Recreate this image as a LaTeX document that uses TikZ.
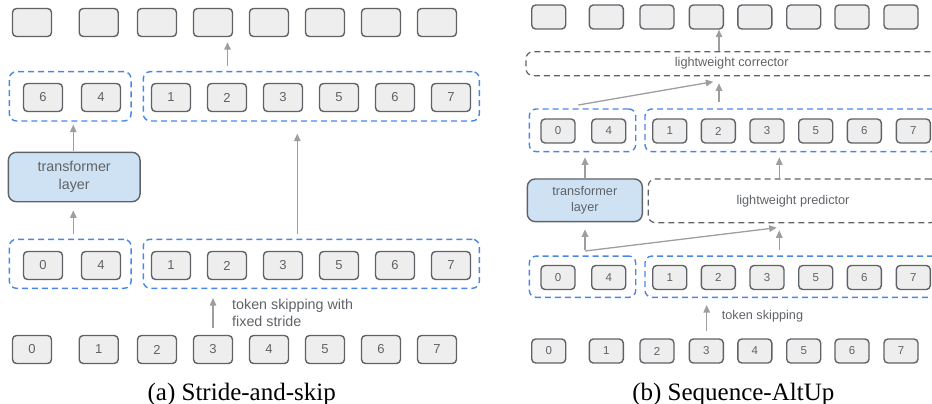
\documentclass[tikz,border=0pt]{standalone}
\usepackage{fontspec}
\setmainfont{Liberation Serif}
\setsansfont{Liberation Sans}
\usetikzlibrary{arrows.meta}

\definecolor{tokfill}{HTML}{EEEEEE}
\definecolor{tokdraw}{HTML}{5F6368}
\definecolor{grpblue}{HTML}{4A86E8}
\definecolor{tfblue}{HTML}{CFE2F3}
\definecolor{arrgray}{HTML}{9E9E9E}
\definecolor{txtgray}{HTML}{5F6368}

\tikzset{
    tok/.style={draw=tokdraw, fill=tokfill, line width=1.4pt, rounded corners=4pt, inner sep=0pt, text=txtgray},
    toka/.style={tok, minimum width=39pt, minimum height=28pt, font=\sffamily\fontsize{13}{15}\selectfont},
    tokb/.style={tok, minimum width=34pt, minimum height=24pt, font=\sffamily\fontsize{11.5}{13}\selectfont},
    grp/.style={draw=grpblue, dash pattern=on 6pt off 4pt, line width=1.4pt, rounded corners=7pt, inner sep=0pt},
    lite/.style={draw=tokdraw, dash pattern=on 6pt off 4pt, line width=1.2pt, rounded corners=7pt, inner sep=0pt, text=txtgray, font=\sffamily\fontsize{12.7}{15}\selectfont},
    tflayer/.style={draw=tokdraw, fill=tfblue, line width=1.4pt, rounded corners=8pt, inner sep=0pt, align=center, text=txtgray},
    arr/.style={-{Triangle[length=7.5pt,width=6.5pt]}, draw=arrgray, line width=1.3pt},
    note/.style={anchor=west, align=left, text=txtgray, inner sep=0pt},
    capt/.style={anchor=base, font=\fontsize{25}{28}\selectfont}
}

\begin{document}
\begin{tikzpicture}[x=1pt, y=-1pt]
    \useasboundingbox (0,0) rectangle (932,404);
    \clip (0,0) rectangle (932,404);

    % (a) stride-and-skip
    \foreach \x [count=\i from 0] in {32,98.7,157,213,269,325,381,437}
        \node[toka] (at\i) at (\x,22.5) {};
    \node[grp, minimum width=121.7pt, minimum height=49.3pt] (agu1) at (70.2,96.3) {};
    \node[grp, minimum width=336pt, minimum height=49.3pt] (agu2) at (311.3,96.3) {};
    \foreach \x/\t [count=\i from 0] in {43/6,101/4,171/1,227/2,283/3,339/5,395/6,451/7}
        \node[toka] (au\i) at (\x,97.5) {\t};
    \node[tflayer, minimum width=131.7pt, minimum height=49.4pt,
          font=\sffamily\fontsize{14.3}{17.4}\selectfont] (atf) at (74.2,177) {transformer\\layer};
    \node[grp, minimum width=121.7pt, minimum height=49pt] (agl1) at (70.2,263.8) {};
    \node[grp, minimum width=336pt, minimum height=49pt] (agl2) at (311.3,263.8) {};
    \foreach \x/\t [count=\i from 0] in {43/0,101/4,171/1,227/2,283/3,339/5,395/6,451/7}
        \node[toka] (al\i) at (\x,265.5) {\t};
    \foreach \x [count=\i from 0] in {32,98.7,157,213,269,325,381,437}
        \node[toka] (ab\i) at (\x,349.5) {\i};
    \node[note, font=\sffamily\fontsize{14.3}{17}\selectfont] (askip) at (232,312.5)
        {token skipping with\\fixed stride};
    \coordinate (along) at (297.3,0);
    \coordinate (aup) at (227.5,0);
    \coordinate (atx) at (73.3,0);

    \draw[arr, shorten <=5pt, shorten >=5pt] (aup |- agu2.north) -- (aup |- at3.south);
    \draw[arr, shorten <=1pt, shorten >=3pt] (atx |- atf.north) -- (atx |- agu1.south);
    \draw[arr, shorten <=5pt, shorten >=8pt] (atx |- agl1.north) -- (atx |- atf.south);
    \draw[arr, shorten <=5pt, shorten >=12pt] (along |- agl2.north) -- (along |- agu2.south);
    \draw[arr, shorten <=7pt, shorten >=9pt] (ab3) -- (ab3 |- agl2.south);

    % (b) sequence-altup
    \foreach \x [count=\i from 0] in {548.7,606.3,657,706.3,754.8,803.7,852,901}
        \node[tokb] (bt\i) at (\x,17) {};
    \node[lite, minimum width=411.4pt, minimum height=24pt] (bcorr) at (731.7,63.7) {lightweight corrector};
    \node[grp, minimum width=106.4pt, minimum height=42.7pt] (bgu1) at (582.5,130.3) {};
    \node[grp, minimum width=295pt, minimum height=42.7pt] (bgu2) at (792.5,130.3) {};
    \foreach \x/\t [count=\i from 0] in {558/0,608.7/4,669.7/1,718.3/2,767/3,815.7/5,864.3/6,913.3/7}
        \node[tokb] (bu\i) at (\x,131) {\t};
    \node[tflayer, minimum width=115pt, minimum height=42.7pt,
          font=\sffamily\fontsize{12.7}{15.5}\selectfont] (btf) at (584.8,200.3) {transformer\\layer};
    \node[lite, minimum width=289.4pt, minimum height=43.7pt] (bpred) at (793,200.8) {lightweight predictor};
    \node[grp, minimum width=106.4pt, minimum height=41.3pt] (bgl1) at (582.5,276.7) {};
    \node[grp, minimum width=295pt, minimum height=41.3pt] (bgl2) at (792.5,276.7) {};
    \foreach \x/\t [count=\i from 0] in {558/0,608.7/4,669.7/1,718.3/2,767/3,815.7/5,864.3/6,913.3/7}
        \node[tokb] (bl\i) at (\x,277.5) {\t};
    \foreach \x [count=\i from 0] in {548.7,606.3,657,706.3,754.8,803.7,852,901}
        \node[tokb] (bb\i) at (\x,351) {\i};
    \node[note, font=\sffamily\fontsize{12.7}{15}\selectfont] (bskip) at (721.7,316.7) {token skipping};
    \coordinate (bcx) at (719,0);
    \coordinate (bpx) at (779.3,0);
    \coordinate (btx) at (585,0);
    \coordinate (bsx) at (706.7,0);
    \coordinate (bdu0) at (578.3,105);
    \coordinate (bdu1) at (713.3,81.7);
    \coordinate (bdl0) at (585,251);
    \coordinate (bdl1) at (776.7,227.7);

    \draw[arr] (bcx |- bcorr.north) -- (bcx |- bt3.south);
    \draw[arr, shorten <=6pt, shorten >=7pt] (bcx |- bgu2.north) -- (bcx |- bcorr.south);
    \draw[arr] (bdu0) -- (bdu1);
    \draw[arr, shorten >=5pt] (btx |- btf.north) -- (btx |- bgu1.south);
    \draw[arr, shorten >=5pt] (bpx |- bpred.north) -- (bpx |- bgu2.south);
    \draw[arr, shorten <=5pt, shorten >=7pt] (btx |- bgl1.north) -- (btx |- btf.south);
    \draw[arr] (bdl0) -- (bdl1);
    \draw[arr, shorten <=5pt, shorten >=7pt] (bpx |- bgl2.north) -- (bpx |- bpred.south);
    \draw[arr, shorten <=7pt, shorten >=7pt] (bsx |- bb3.north) -- (bsx |- bgl2.south);

    % captions
    \node[capt] (acap) at (241.7,400) {(a) Stride-and-skip};
    \node[capt] (bcap) at (733.3,400) {(b) Sequence-AltUp};
\end{tikzpicture}
\end{document}
